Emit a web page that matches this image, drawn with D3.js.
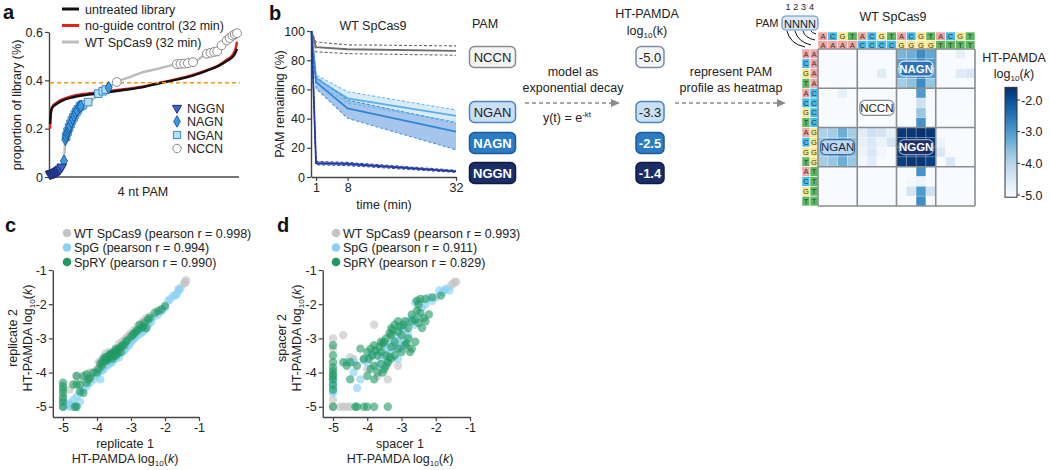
<!DOCTYPE html>
<html><head><meta charset="utf-8">
<script src="https://cdn.jsdelivr.net/npm/d3@7"></script>
<style>body{margin:0;background:#fff}svg{display:block}text{font-family:"Liberation Sans",Arial,sans-serif}</style>
</head><body><svg id="fig" width="1050" height="470"></svg>
<script>
// ================= DATA =================
// Panel a: sorted PAM proportions (rank of 256 PAMs, % of library)
const aRanks      = [0,1,2,4,8,16,31,50,78,100,123,145,168,190,214,230,241,250,253,255];
const aUntreated  = [0.22,0.26,0.28,0.29,0.30,0.315,0.33,0.34,0.35,0.36,0.37,0.385,0.40,0.415,0.44,0.46,0.48,0.50,0.515,0.53];
const aNoGuide    = [0.20,0.26,0.28,0.295,0.305,0.32,0.335,0.345,0.355,0.363,0.372,0.387,0.402,0.418,0.442,0.462,0.485,0.51,0.53,0.56];
const aWTRanks    = [0,4,8,12,16,18,19,20,21,23,26,30,35,40,45,52,60,66,72,80,91,110,123,150,173,195,214,228,241,249,255];
const aWT         = [0.012,0.016,0.021,0.028,0.042,0.055,0.066,0.11,0.155,0.18,0.205,0.235,0.265,0.29,0.30,0.31,0.325,0.345,0.355,0.37,0.393,0.415,0.43,0.45,0.467,0.475,0.51,0.52,0.565,0.585,0.595];
const aNGGNr = [0,1,2,3,4,5,6,7,8,9,10,11,12,13,14,16];
const aNGGNv = [0.012,0.013,0.014,0.015,0.016,0.017,0.018,0.019,0.021,0.022,0.024,0.026,0.028,0.031,0.034,0.042];
const aNAGNr = [19,21,22,23,24,25,26,27,29,31,33,35,37,40,42,80];
const aNAGNv = [0.066,0.155,0.167,0.18,0.188,0.196,0.205,0.212,0.228,0.24,0.253,0.265,0.275,0.29,0.293,0.37];
const aNGANr = [22,24,26,28,30,32,34,36,38,41,43,45,52,66,72,76];
const aNGANv = [0.167,0.188,0.205,0.22,0.235,0.247,0.259,0.27,0.28,0.292,0.296,0.30,0.31,0.345,0.355,0.362];
const aNCCNr = [91,173,178,183,188,195,214,219,224,228,234,241,245,249,252,255];
const aNCCNv = [0.393,0.467,0.468,0.469,0.471,0.475,0.51,0.514,0.518,0.52,0.545,0.565,0.575,0.585,0.59,0.595];
const aYTicks = [0,0.2,0.4,0.6];
const aThreshold = 0.39;

// Panel b: PAM remaining (%) over time
const bTimes = [0,1,8,32];
const bNCCN = [100,89,87.5,86.4], bNCCNlo = [100,85.7,84.5,83.4], bNCCNhi = [100,92.5,90.5,89.8];
const bNGAN = [100,67.5,53.9,41.8], bNGANlo = [100,65,50.5,37.7], bNGANhi = [100,69.8,58.4,45.9];
const bNAGN = [100,65,47,31], bNAGNlo = [100,60.7,40.2,18.7], bNAGNhi = [100,68.6,52.7,37];
const bNGGN = [100,9.5,9,3.9], bNGGNlo = [100,8.4,7.8,3.2], bNGGNhi = [100,10.7,10,4.6];
const bYTicks = [0,20,40,60,80,100];
const bXTicks = [1,8,32];
const bPAMs = ["NCCN","NGAN","NAGN","NGGN"];
const bRates = ["-5.0","-3.3","-2.5","-1.4"];

// Heatmap: rows = position2 block x position1, cols = position3 block x position4
const nts = ["A","C","G","T"];
const hm = [
 [-5,-5,-5,-5, -5,-5,-5,-5, -3.4,-3.3,-2.8,-3.2, -5,-5,-4.7,-5],
 [-5,-5,-5,-5, -5,-5,-5,-5, -3.1,-3.0,-2.6,-3.0, -5,-5,-5,-5],
 [-5,-5,-5,-5, -5,-5,-4.6,-5, -3.2,-3.1,-2.7,-3.1, -5,-5,-4.6,-4.5],
 [-5,-5,-5,-5, -5,-5,-5,-5, -3.8,-3.6,-2.8,-3.7, -5,-5,-5,-5],
 [-5,-5,-4.7,-5, -5,-5,-5,-5, -5,-5,-3.0,-5, -5,-5,-5,-5],
 [-5,-5,-5,-5, -5,-5,-5,-5, -5,-5,-4.3,-5, -5,-5,-5,-5],
 [-5,-5,-5,-5, -5,-5,-5,-5, -5,-5,-3.7,-5, -5,-5,-5,-5],
 [-5,-5,-5,-5, -5,-5,-5,-5, -5,-5,-2.9,-5, -5,-5,-5,-5],
 [-3.9,-3.8,-3.3,-3.8, -4.6,-4.3,-4.4,-4.7, -1.7,-1.7,-1.6,-1.7, -5,-5,-5,-5],
 [-3.7,-3.6,-3.3,-3.6, -4.7,-4.5,-4.8,-4.4, -1.7,-1.6,-1.6,-1.7, -4.8,-5,-5,-5],
 [-3.7,-3.6,-3.2,-3.6, -4.8,-4.5,-4.9,-5, -1.7,-1.7,-1.6,-1.7, -4.5,-5,-5,-5],
 [-3.8,-3.7,-3.3,-3.7, -4.9,-4.6,-5,-5, -1.8,-1.7,-1.7,-1.8, -5,-4.5,-5,-5],
 [-5,-5,-5,-5, -5,-5,-5,-5, -5,-5,-2.9,-5, -5,-5,-5,-5],
 [-5,-5,-5,-5, -5,-5,-5,-5, -5,-4.9,-4.8,-5, -5,-5,-5,-5],
 [-5,-5,-5,-5, -5,-5,-5,-5, -5,-4.4,-3.0,-4.3, -5,-5,-5,-5],
 [-5,-5,-5,-5, -5,-5,-5,-5, -5,-5,-2.8,-5, -5,-5,-5,-5]
];
const hmLabels = [{t:"NAGN",r:0,c:2},{t:"NCCN",r:1,c:1},{t:"NGAN",r:2,c:0},{t:"NGGN",r:2,c:2}];
const cbTicks = [-2,-3,-4,-5];

// Panel c: replicate 1 vs replicate 2
const cWT = [[-1.4,-1.35],[-1.38,-1.3],[-1.42,-1.38],[-1.45,-1.4],[-1.6,-1.55],[-2.4,-2.4],[-2.5,-2.45],[-2.6,-2.5],[-2.7,-2.6],[-2.8,-2.65],[-2.9,-2.75],[-3.0,-2.85],[-3.1,-2.95],[-3.2,-3.05],[-3.3,-3.2],[-3.4,-3.3],[-3.5,-3.4],[-3.6,-3.45],[-3.7,-3.5],[-3.8,-3.55],[-3.9,-3.7],[-3.85,-3.6],[-4.0,-3.9],[-4.2,-4.0],[-4.4,-4.2],[-4.6,-4.1],[-4.8,-4.5],[-5,-4.7],[-5,-5],[-4.7,-5],[-4.8,-4.95],[-5,-4.9],[-3.35,-3.15],[-3.25,-3.1],[-3.45,-3.35],[-3.55,-3.45],[-4.1,-4.05],[-2.45,-2.35],[-2.55,-2.4],[-2.65,-2.5],[-3.05,-2.9],[-3.15,-3.0],[-3.65,-3.4],[-3.75,-3.45],[-3.95,-3.7]];
const cSpG = [[-1.6,-1.6],[-1.65,-1.7],[-1.75,-1.75],[-1.9,-1.9],[-2.0,-2.1],[-2.2,-2.3],[-2.3,-2.35],[-2.5,-2.6],[-2.6,-2.75],[-2.7,-2.85],[-2.8,-2.9],[-2.9,-3.0],[-3.0,-3.1],[-3.1,-3.2],[-3.2,-3.35],[-3.3,-3.4],[-3.4,-3.5],[-3.5,-3.6],[-3.6,-3.7],[-3.7,-3.8],[-3.8,-3.9],[-3.9,-3.95],[-4.0,-4.1],[-4.2,-4.3],[-4.4,-4.5],[-4.5,-4.85],[-4.6,-4.7],[-4.7,-4.8],[-4.8,-4.9],[-4.9,-4.95],[-5,-5],[-4.6,-5],[-5,-4.9],[-4.3,-4.4],[-3.9,-4.2],[-3.35,-3.55],[-2.4,-2.5],[-3.75,-3.75],[-1.55,-1.55],[-1.7,-1.75],[-1.85,-1.85],[-2.1,-2.2],[-2.45,-2.55],[-2.55,-2.7],[-2.65,-2.8],[-2.85,-2.95],[-2.95,-3.05],[-3.05,-3.2],[-3.15,-3.3],[-3.25,-3.4],[-3.45,-3.6],[-3.55,-3.7],[-3.65,-3.75],[-3.85,-3.95],[-4.1,-4.2],[-4.5,-4.6],[-4.8,-5]];
const cSpRY = [[-5,-5],[-5,-4.85],[-5,-4.75],[-5,-4.6],[-5,-4.5],[-5,-4.3],[-5,-4.4],[-4.65,-5],[-4.6,-5],[-4.5,-4.55],[-4.6,-4.35],[-4.7,-4.35],[-4.4,-4.6],[-4.3,-4.3],[-4.2,-4.15],[-4.4,-4.1],[-4.6,-4.1],[-4.3,-4.05],[-4.1,-4.0],[-4.0,-4.0],[-3.85,-3.7],[-3.8,-3.6],[-3.75,-3.55],[-3.7,-3.6],[-3.65,-3.5],[-3.6,-3.55],[-3.55,-3.45],[-3.5,-3.4],[-3.45,-3.5],[-3.4,-3.35],[-3.35,-3.3],[-3.3,-3.25],[-3.2,-3.2],[-3.1,-3.05],[-3.0,-2.95],[-2.9,-2.85],[-2.8,-2.75],[-2.7,-2.7],[-2.75,-2.6],[-2.6,-2.55],[-2.5,-2.45],[-2.2,-2.2],[-2.1,-2.15],[-2.0,-2.05],[-2.55,-2.7],[-3.85,-3.8],[-3.9,-3.75],[-3.6,-3.45],[-3.55,-3.6],[-3.4,-3.45],[-3.3,-3.4],[-3.45,-3.3],[-3.5,-3.5],[-3.6,-3.5],[-3.7,-3.65],[-3.25,-3.2],[-3.15,-3.1],[-2.95,-2.9],[-2.85,-2.8],[-2.65,-2.65],[-2.45,-2.4],[-2.3,-2.25],[-3.75,-3.65],[-3.95,-3.9],[-4.25,-4.2],[-4.5,-4.35]];

// Panel d: spacer 1 vs spacer 2
const dWT = [[-1.45,-1.35],[-1.5,-1.4],[-1.4,-1.35],[-1.55,-1.45],[-3.8,-2.6],[-3.3,-2.9],[-4.7,-2.9],[-5,-3.0],[-4.4,-3.6],[-3.0,-3.2],[-3.2,-3.3],[-2.9,-2.8],[-3.4,-4.2],[-3.7,-4.1],[-4.0,-3.9],[-3.1,-3.8],[-5,-4.2],[-5,-4.4],[-5,-4.8],[-5,-5],[-4.8,-5],[-4.7,-5],[-4.6,-5],[-4.5,-5],[-5,-3.3],[-4.5,-3.55],[-2.5,-2.1],[-3.5,-3.4],[-4.1,-3.6],[-2.8,-3.3]];
const dSpG = [[-1.6,-1.6],[-1.7,-1.55],[-1.8,-1.65],[-1.9,-1.6],[-2.0,-1.8],[-2.3,-2.0],[-2.6,-1.95],[-2.7,-2.4],[-2.6,-2.6],[-2.9,-2.7],[-3.1,-3.1],[-3.2,-3.2],[-3.3,-3.15],[-3.4,-3.3],[-3.5,-3.2],[-3.0,-3.0],[-2.8,-2.9],[-3.6,-3.6],[-3.9,-3.5],[-4.4,-3.7],[-4.4,-4.0],[-4.2,-4.2],[-4.1,-3.65],[-5,-4.4],[-5,-4.55],[-5,-4.5],[-5,-4.2],[-3.1,-3.6],[-2.5,-2.4],[-2.2,-1.8],[-3.7,-3.8],[-4.3,-4.45],[-3.4,-3.7],[-1.75,-1.6],[-2.1,-1.9],[-2.4,-2.1],[-2.8,-2.5],[-3.0,-2.7],[-3.2,-2.9],[-3.3,-3.4],[-3.5,-3.5],[-3.0,-3.3],[-2.9,-3.1],[-3.8,-3.4],[-4.0,-3.7],[-4.6,-3.7],[-5,-4.3],[-5,-4.6]];
const dSpRY = [[-1.85,-1.75],[-2.1,-1.8],[-2.3,-1.85],[-2.45,-1.85],[-2.55,-1.9],[-2.5,-2.0],[-2.45,-2.25],[-2.55,-2.2],[-2.7,-2.3],[-2.6,-2.45],[-2.5,-2.55],[-2.3,-2.5],[-2.4,-2.7],[-2.7,-2.5],[-2.9,-2.5],[-3.1,-2.5],[-3.2,-2.6],[-3.1,-2.8],[-3.3,-2.7],[-3.0,-2.9],[-2.8,-3.0],[-2.6,-3.1],[-2.7,-3.3],[-2.9,-3.2],[-3.1,-3.3],[-3.2,-3.5],[-3.3,-3.6],[-3.4,-3.7],[-3.45,-3.8],[-3.5,-3.9],[-3.35,-3.55],[-3.6,-3.1],[-3.5,-3.1],[-3.8,-3.2],[-3.9,-3.3],[-4.0,-3.4],[-4.2,-3.3],[-4.1,-3.6],[-3.7,-3.5],[-3.6,-3.4],[-3.8,-3.8],[-3.9,-3.9],[-3.7,-4.0],[-3.8,-4.2],[-4.0,-4.1],[-3.55,-4.0],[-4.3,-3.8],[-4.5,-3.7],[-4.7,-3.7],[-4.5,-4.2],[-4.6,-3.8],[-5,-3.2],[-5,-3.5],[-5,-3.7],[-5,-3.85],[-5,-3.95],[-5,-4.05],[-5,-4.2],[-5,-4.35],[-5,-5],[-4.35,-5],[-4.3,-5],[-4.1,-5],[-4.0,-5],[-3.8,-5],[-3.4,-5],[-3.0,-3.4],[-2.8,-2.7],[-3.3,-2.9],[-2.95,-2.6],[-3.05,-2.65],[-3.25,-2.75],[-3.35,-2.85],[-3.45,-3.0],[-3.55,-3.15],[-3.65,-3.25],[-3.75,-3.35],[-3.85,-3.5],[-3.95,-3.6],[-3.6,-3.75],[-3.45,-3.5],[-3.3,-3.25],[-3.2,-3.1],[-2.85,-3.15],[-2.75,-3.4],[-2.35,-2.4],[-2.2,-2.3],[-5,-4.5],[-5,-4.1]];
const scatTicks = [-5,-4,-3,-2,-1];
const cLegend = ["WT SpCas9 (pearson r = 0.998)","SpG (pearson r = 0.994)","SpRY (pearson r = 0.990)"];
const dLegend = ["WT SpCas9 (pearson r = 0.993)","SpG (pearson r = 0.911)","SpRY (pearson r = 0.829)"];

// ================= DRAW =================
const svg = d3.select("#fig");
svg.append("rect").attr("width",1050).attr("height",470).attr("fill","#fff");
const INK = "#222";
function T(g,x,y,s,o={}){
  const t=g.append("text").attr("x",x).attr("y",y).attr("font-size",o.size||12.5)
    .attr("fill",o.fill||INK).attr("text-anchor",o.anchor||"start");
  if(o.weight) t.attr("font-weight",o.weight);
  if(o.rot!=null) t.attr("transform",`rotate(${o.rot},${x},${y})`);
  t.text(s); return t;
}
function logLabel(g,x,y,prefix,o={}){
  const t=g.append("text").attr("x",x).attr("y",y).attr("font-size",o.size||12.5).attr("fill",INK).attr("text-anchor","middle");
  if(o.rot!=null) t.attr("transform",`rotate(${o.rot},${x},${y})`);
  t.append("tspan").text(prefix+"log");
  t.append("tspan").attr("font-size",(o.size||12.5)*0.65).attr("dy",3).text("10");
  t.append("tspan").attr("dy",-3).text("(");
  t.append("tspan").attr("font-style",o.italic===false?"normal":"italic").text("k");
  t.append("tspan").text(")");
  return t;
}
function styleAxis(sel){
  sel.select(".domain").attr("stroke","#444").attr("stroke-width",1.4);
  sel.selectAll(".tick line").attr("stroke","#444").attr("stroke-width",1.2);
  sel.selectAll(".tick text").attr("font-size",12.5).attr("fill",INK).attr("font-family",'"Liberation Sans",Arial,sans-serif');
}
function panelLetter(x,y,s){T(svg,x,y,s,{size:20,weight:"bold",fill:"#111"});}

// ---------- Panel a ----------
panelLetter(3,19,"a");
const ga = svg.append("g");
const ax = d3.scaleLinear().domain([0,255]).range([50,237]);
const ay = d3.scaleLinear().domain([0,0.6]).range([177,32]);
ga.append("g").attr("transform","translate(49,0)")
  .call(d3.axisLeft(ay).tickValues(aYTicks).tickFormat(d=>d===0?"0":d.toFixed(1)).tickSize(4).tickPadding(2).tickSizeOuter(0))
  .call(styleAxis);
ga.append("line").attr("x1",49).attr("x2",239).attr("y1",177).attr("y2",177).attr("stroke","#777").attr("stroke-width",2);
const lineA = d3.line().x(d=>ax(d[0])).y(d=>ay(d[1])).curve(d3.curveMonotoneX);
ga.append("path").attr("d",lineA(aWTRanks.map((r,i)=>[r,aWT[i]]))).attr("fill","none").attr("stroke","#bdbdbd").attr("stroke-width",2.5);
ga.append("path").attr("d",lineA(aRanks.map((r,i)=>[r,aNoGuide[i]]))).attr("fill","none").attr("stroke","#e8201a").attr("stroke-width",2.5);
ga.append("path").attr("d",lineA(aRanks.map((r,i)=>[r,aUntreated[i]]))).attr("fill","none").attr("stroke","#111").attr("stroke-width",2.4);
ga.append("line").attr("x1",50).attr("x2",240).attr("y1",ay(aThreshold)).attr("y2",ay(aThreshold))
  .attr("stroke","#f7941d").attr("stroke-width",1.5).attr("stroke-dasharray","4,3");
const markerDefs = [
  {r:aNCCNr,v:aNCCNv,type:d3.symbolCircle,size:62,fill:"#fff",stroke:"#8a8a8a",name:"NCCN"},
  {r:aNGANr,v:aNGANv,type:d3.symbolSquare,size:58,fill:"#b3e0f7",stroke:"#3d86c6",name:"NGAN"},
  {r:aNAGNr,v:aNAGNv,type:d3.symbolDiamond,size:42,fill:"#3a9be4",stroke:"#1d5ea8",name:"NAGN"},
  {r:aNGGNr,v:aNGGNv,type:d3.symbolTriangle,size:40,fill:"#3f62c7",stroke:"#1b2e7c",name:"NGGN",rot:180}
];
markerDefs.forEach(m=>{
  const sym=d3.symbol().type(m.type).size(m.size);
  ga.append("g").selectAll("path").data(m.r.map((r,i)=>[r,m.v[i]])).join("path")
    .attr("d",sym).attr("transform",d=>`translate(${ax(d[0])},${ay(d[1])}) rotate(${m.rot||0})`)
    .attr("fill",m.fill).attr("stroke",m.stroke).attr("stroke-width",1);
});
[["untreated library","#111"],["no-guide control (32 min)","#e8201a"],["WT SpCas9 (32 min)","#bdbdbd"]].forEach((d,i)=>{
  const y=9+i*16.5;
  ga.append("line").attr("x1",62).attr("x2",79).attr("y1",y).attr("y2",y).attr("stroke",d[1]).attr("stroke-width",3);
  T(ga,85,y+4.5,d[0],{size:12.5});
});
markerDefs.slice().reverse().forEach((m,i)=>{
  const y=108+i*13.5;
  ga.append("path").attr("d",d3.symbol().type(m.type).size(m.size*0.9)).attr("transform",`translate(177,${y}) rotate(${m.rot||0})`)
    .attr("fill",m.fill).attr("stroke",m.stroke).attr("stroke-width",1);
  T(ga,187,y+4.5,m.name,{size:12.5});
});
T(ga,17,105,"proportion of library (%)",{anchor:"middle",rot:-90,size:12.5}).attr("dy",4);
T(ga,143,196,"4 nt PAM",{anchor:"middle",size:12.5});

// ---------- Panel b ----------
panelLetter(269,20,"b");
const gb = svg.append("g");
const bx = d3.scaleLinear().domain([0,32]).range([311.5,456]);
const by = d3.scaleLinear().domain([0,100]).range([177,31]);
gb.append("g").attr("transform","translate(311,0)")
  .call(d3.axisLeft(by).tickValues(bYTicks).tickSize(4).tickPadding(2).tickSizeOuter(0)).call(styleAxis);
gb.append("g").attr("transform","translate(0,177)")
  .call(d3.axisBottom(bx).tickValues(bXTicks).tickSize(4).tickPadding(2).tickSizeOuter(0)).call(styleAxis);
const bSeries = [
  {m:bNCCN,lo:bNCCNlo,hi:bNCCNhi,line:"#6b6b6b",fill:"none",dash:"#6b6b6b"},
  {m:bNGAN,lo:bNGANlo,hi:bNGANhi,line:"#5aaeea",fill:"#cfe5f8",dash:"#6bb8ee"},
  {m:bNAGN,lo:bNAGNlo,hi:bNAGNhi,line:"#2f86d6",fill:"#8fb6e8",dash:"#4a95dc"},
  {m:bNGGN,lo:bNGGNlo,hi:bNGGNhi,line:"#2236a0",fill:"#6a7ed0",dash:"#3a4fb8"}
];
const lineB = d3.line().x((d,i)=>bx(bTimes[i])).y(d=>by(d));
const areaB = d3.area().x(d=>bx(d[0])).y0(d=>by(d[1])).y1(d=>by(d[2]));
bSeries.forEach(s=>{
  if(s.fill!=="none") gb.append("path").attr("d",areaB(bTimes.map((t,i)=>[t,s.lo[i],s.hi[i]]))).attr("fill",s.fill).attr("opacity",0.8);
});
bSeries.forEach(s=>{
  gb.append("path").attr("d",lineB(s.lo)).attr("fill","none").attr("stroke",s.dash).attr("stroke-width",1.1).attr("stroke-dasharray","3,2");
  gb.append("path").attr("d",lineB(s.hi)).attr("fill","none").attr("stroke",s.dash).attr("stroke-width",1.1).attr("stroke-dasharray","3,2");
  gb.append("path").attr("d",lineB(s.m)).attr("fill","none").attr("stroke",s.line).attr("stroke-width",1.8);
});
T(gb,373,30,"WT SpCas9",{anchor:"middle",size:12.5});
T(gb,280,104,"PAM remaining (%)",{anchor:"middle",rot:-90,size:12.5}).attr("dy",4);
T(gb,384,209,"time (min)",{anchor:"middle",size:12.5});

const boxY = [57,112,143,173];
const boxStyles = [
  {fill:"#f4f4f4",stroke:"#8a8a8a",text:"#222",w:"normal"},
  {fill:"#c8dff4",stroke:"#4a86c5",text:"#222",w:"normal"},
  {fill:"#2c7cc5",stroke:"#1d5a9a",text:"#fff",w:"bold"},
  {fill:"#1b2d66",stroke:"#0e1b45",text:"#fff",w:"bold"}
];
function roundBox(g,cx,cy,w,h,txt,st,fs){
  g.append("rect").attr("x",cx-w/2).attr("y",cy-h/2).attr("width",w).attr("height",h).attr("rx",5)
    .attr("fill",st.fill).attr("stroke",st.stroke).attr("stroke-width",st.sw||1.5);
  T(g,cx,cy+fs*0.36,txt,{anchor:"middle",size:fs,fill:st.text,weight:st.w});
}
T(gb,485,28,"PAM",{anchor:"middle",size:12.5});
bPAMs.forEach((p,i)=>roundBox(gb,492.5,boxY[i],46,21,p,boxStyles[i],13));
T(gb,647,18,"HT-PAMDA",{anchor:"middle",size:12.5});
logLabel(gb,647,35,"",{italic:false,size:12.5});
bRates.forEach((p,i)=>roundBox(gb,650,boxY[i],28,21,p,i===0?{fill:"#f3f6fa",stroke:"#7d8ca3",text:"#222",w:"normal"}:boxStyles[i],13));
T(gb,573,76,"model as",{anchor:"middle",size:12.5});
T(gb,573,92,"exponential decay",{anchor:"middle",size:12.5});
const yt = gb.append("text").attr("x",567).attr("y",122).attr("text-anchor","middle").attr("font-size",12.5).attr("fill",INK);
yt.append("tspan").text("y(t) = e");
yt.append("tspan").attr("dy",-5).attr("font-size",8).text("-kt");
function arrow(g,x1,x2,y){
  g.append("line").attr("x1",x1).attr("x2",x2-7).attr("y1",y).attr("y2",y).attr("stroke","#8a8a8a").attr("stroke-width",1.6).attr("stroke-dasharray","4,3");
  g.append("path").attr("d",`M${x2},${y}L${x2-9},${y-4}L${x2-9},${y+4}Z`).attr("fill","#8a8a8a");
}
arrow(gb,525,620,103);
arrow(gb,675,786,103);
T(gb,731,76,"represent PAM",{anchor:"middle",size:12.5});
T(gb,731,92,"profile as heatmap",{anchor:"middle",size:12.5});

// ---------- Heatmap ----------
const gh = svg.append("g");
const hx = d3.scaleBand().domain(d3.range(16)).range([818,975]);
const hy = d3.scaleBand().domain(d3.range(16)).range([49,206]);
const cw = hx.bandwidth();
const hColor = d3.scaleSequential(d3.interpolateBlues).domain([-5,-1.6]).clamp(true);
const ntColor = {A:"#f3a5a3",C:"#43bce9",G:"#f8e88c",T:"#5cb85f"};
hm.forEach((row,r)=>row.forEach((v,c)=>{
  gh.append("rect").attr("x",hx(c)).attr("y",hy(r)).attr("width",cw).attr("height",cw)
    .attr("fill",hColor(v)).attr("stroke","#fff").attr("stroke-opacity",0.35).attr("stroke-width",0.6);
}));
d3.range(16).forEach(i=>{
  const inner=nts[i%4], blk=nts[Math.floor(i/4)];
  [[hx(i),32,inner],[hx(i),40.5,blk]].forEach(d=>{
    gh.append("rect").attr("x",d[0]).attr("y",d[1]).attr("width",cw).attr("height",8.5).attr("fill",ntColor[d[2]]).attr("stroke","#fff").attr("stroke-width",0.6);
    T(gh,d[0]+cw/2,d[1]+7,d[2],{anchor:"middle",size:7.5,fill:"#333"});
  });
  [[802,hy(i),inner],[810,hy(i),blk]].forEach(d=>{
    gh.append("rect").attr("x",d[0]).attr("y",d[1]).attr("width",8).attr("height",cw).attr("fill",ntColor[d[2]]).attr("stroke","#fff").attr("stroke-width",0.6);
    T(gh,d[0]+4,d[1]+cw/2+2.7,d[2],{anchor:"middle",size:7.5,fill:"#333"});
  });
});
d3.range(5).forEach(k=>{
  const xx=818+k*cw*4, yy=49+k*cw*4;
  gh.append("line").attr("x1",xx).attr("x2",xx).attr("y1",49).attr("y2",206).attr("stroke","#8c8c8c").attr("stroke-width",1.6);
  gh.append("line").attr("x1",818).attr("x2",975).attr("y1",yy).attr("y2",yy).attr("stroke","#8c8c8c").attr("stroke-width",1.6);
});
const hmLabStyles = {
  NAGN:{fill:"#2d6fb9",stroke:"#dfe9f5",text:"#fff",w:"bold",sw:1.2},
  NCCN:{fill:"#fbfbfb",stroke:"#888",text:"#222",w:"normal",sw:1.2},
  NGAN:{fill:"#bcd6ef",stroke:"#3d6fae",text:"#1c2a44",w:"normal",sw:1.2},
  NGGN:{fill:"#1c2f6b",stroke:"#8ea3cc",text:"#fff",w:"bold",sw:1.2}
};
hmLabels.forEach(l=>{
  const cx=818+(l.c*4+2)*cw, cy=49+(l.r*4+2)*cw;
  roundBox(gh,cx,cy,34,15,l.t,hmLabStyles[l.t],11.5);
});
T(gh,893,21,"WT SpCas9",{anchor:"middle",size:12.5});
T(gh,767,27,"PAM",{anchor:"middle",size:11});
gh.append("rect").attr("x",782).attr("y",16).attr("width",36).attr("height",14).attr("rx",4).attr("fill","#dbe8f7").attr("stroke","#5b8fd0").attr("stroke-width",1.2);
T(gh,800,27.5,"NNNN",{anchor:"middle",size:11});
["1","2","3","4"].forEach((n,i)=>T(gh,788+i*7.8,10,n,{anchor:"middle",size:9}));
const arcs = [[787,31,805,47,790,44],[795,31,811,45,798,42],[803,31,815,40,805,38],[811,31,816,34,812,33]];
arcs.forEach(a=>{
  gh.append("path").attr("d",`M${a[0]},${a[1]}Q${a[4]},${a[5]} ${a[2]},${a[3]}`).attr("fill","none").attr("stroke","#111").attr("stroke-width",1);
});
const defs = svg.append("defs");
const grad = defs.append("linearGradient").attr("id","cbg").attr("x1",0).attr("x2",0).attr("y1",1).attr("y2",0);
d3.range(0,1.0001,0.1).forEach(t=>grad.append("stop").attr("offset",t).attr("stop-color",hColor(-5.07+t*(3.47))));
const cby = d3.scaleLinear().domain([-5,-2]).range([195,100]);
gh.append("rect").attr("x",1005).attr("y",cby(-1.6)).attr("width",12).attr("height",cby(-5.07)-cby(-1.6)).attr("fill","url(#cbg)").attr("stroke","#333").attr("stroke-width",1);
cbTicks.forEach(v=>{
  gh.append("line").attr("x1",1017).attr("x2",1020).attr("y1",cby(v)).attr("y2",cby(v)).attr("stroke","#333");
  T(gh,1021,cby(v)+4.5,v.toFixed(1),{size:12.5});
});
T(gh,1014,62,"HT-PAMDA",{anchor:"middle",size:12.5});
logLabel(gh,1014,78,"",{size:12.5});

// ---------- Panels c & d ----------
const scatColors = ["#c4c4c4","#8ad2f4","#1f9a62"];
function scatterPanel(letterX,x5,x1,data,legend,xl1,yl1,letter,legX,ylx1,ylx2,xlc){
  panelLetter(letterX,232,letter);
  const g=svg.append("g");
  const per=(x1-x5)/4;
  const sx=d3.scaleLinear().domain([-5.3,-1]).range([x5-0.3*per,x1]);
  const sy=d3.scaleLinear().domain([-5.3,-1]).range([417,270]);
  g.append("g").attr("transform",`translate(${sx(-5.3)},0)`).call(d3.axisLeft(sy).tickValues(scatTicks).tickFormat(d=>String(d)).tickSize(4).tickPadding(2).tickSizeOuter(0)).call(styleAxis);
  g.append("g").attr("transform","translate(0,417)").call(d3.axisBottom(sx).tickValues(scatTicks).tickFormat(d=>String(d)).tickSize(4).tickPadding(2).tickSizeOuter(0)).call(styleAxis);
  data.forEach((ser,k)=>{
    g.append("g").selectAll("circle").data(ser).join("circle")
      .attr("cx",d=>sx(d[0])).attr("cy",d=>sy(d[1])).attr("r",4.2)
      .attr("fill",scatColors[k]).attr("fill-opacity",k===2?0.6:0.65);
  });
  legend.forEach((s,i)=>{
    const y=233+i*14.5;
    g.append("circle").attr("cx",legX).attr("cy",y).attr("r",4.3).attr("fill",scatColors[i]);
    T(g,legX+7,y+4.5,s,{size:12.5});
  });
  T(g,xlc,448,xl1,{anchor:"middle",size:12.5});
  logLabel(g,xlc,463,"HT-PAMDA ",{size:12.5});
  T(g,ylx1,338,yl1,{anchor:"middle",rot:-90,size:12.5});
  logLabel(g,ylx2,338,"HT-PAMDA ",{rot:-90,size:12.5});
}
scatterPanel(5,63,199,[cWT,cSpG,cSpRY],cLegend,"replicate 1","replicate 2","c",67,17,32,125);
scatterPanel(277,333,470,[dWT,dSpG,dSpRY],dLegend,"spacer 1","spacer 2","d",336,286,301,400);
</script></body></html>
